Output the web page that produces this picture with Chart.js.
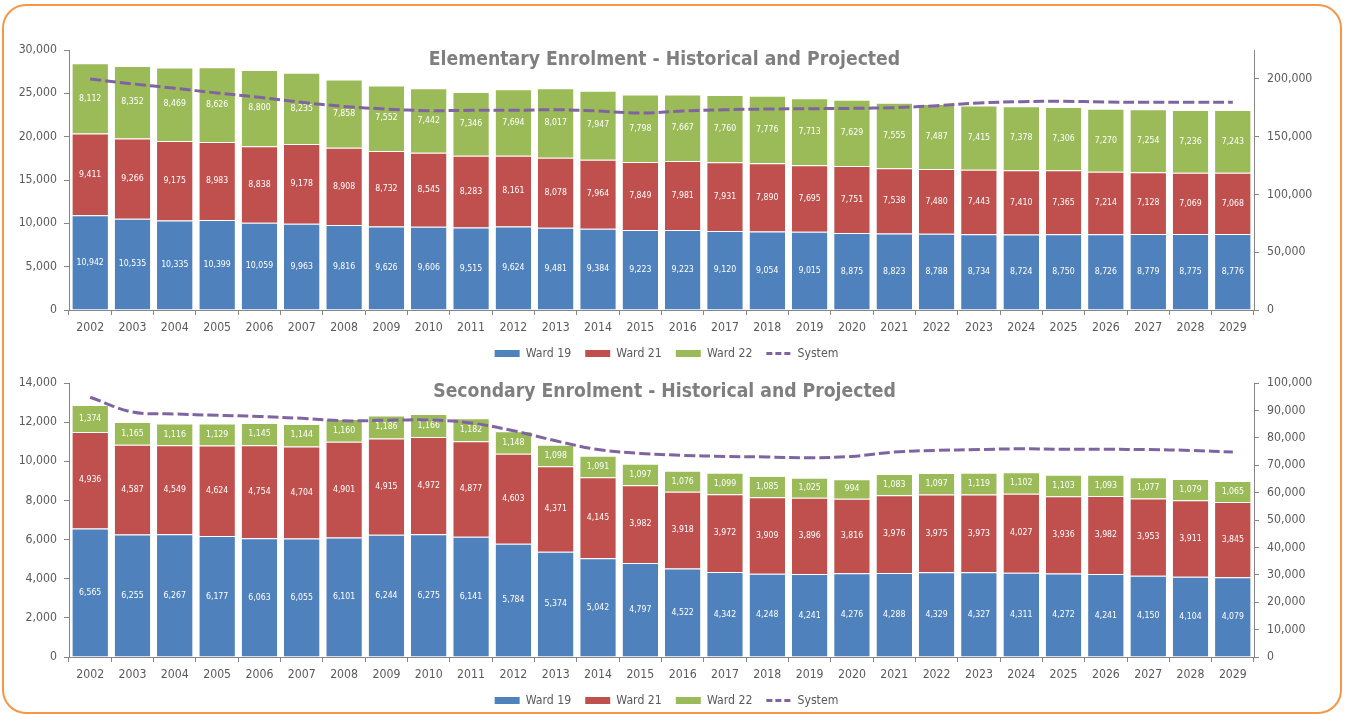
<!DOCTYPE html>
<html>
<head>
<meta charset="utf-8">
<title>Enrolment - Historical and Projected</title>
<script src="https://cdn.jsdelivr.net/npm/chart.js@4.4.1/dist/chart.umd.min.js"></script>
<style>
  html, body { margin: 0; padding: 0; background: #ffffff; overflow: hidden; width: 1345px; height: 715px; }
  #frame { position: absolute; left: 2px; top: 4px; width: 1336px; height: 706px; border: 2px solid #F79646; border-radius: 24px; }
  .box { position: absolute; left: 0; width: 1345px; }
  #box1 { top: 0; height: 372px; }
  #box2 { top: 333px; height: 386px; }
  canvas { display: block; }
</style>
</head>
<body>
<div id="frame"></div>
<div class="box" id="box1"><canvas id="elementary"></canvas></div>
<div class="box" id="box2"><canvas id="secondary"></canvas></div>
<script>
// School years shown on both charts
const years = ['2002','2003','2004','2005','2006','2007','2008','2009','2010','2011','2012','2013','2014','2015',
               '2016','2017','2018','2019','2020','2021','2022','2023','2024','2025','2026','2027','2028','2029'];

// Elementary enrolment by ward
const elemWard19 = [10942,10535,10335,10399,10059,9963,9816,9626,9606,9515,9624,9481,9384,9223,
                    9223,9120,9054,9015,8875,8823,8788,8734,8724,8750,8726,8779,8775,8776];
const elemWard21 = [9411,9266,9175,8983,8838,9178,8908,8732,8545,8283,8161,8078,7964,7849,
                    7981,7931,7890,7695,7751,7538,7480,7443,7410,7365,7214,7128,7069,7068];
const elemWard22 = [8112,8352,8469,8626,8800,8235,7858,7552,7442,7346,7694,8017,7947,7798,
                    7667,7760,7776,7713,7629,7555,7487,7415,7378,7306,7270,7254,7236,7243];
// Elementary system-wide total (right axis)
const elemSystem = [200000,195700,191900,187800,184100,179700,176200,173900,172500,172800,172800,173300,172200,170400,
                    172200,173300,173900,174200,174500,175100,176800,179100,180300,180600,180000,179700,179700,179700];

// Secondary enrolment by ward
const secWard19 = [6565,6255,6267,6177,6063,6055,6101,6244,6275,6141,5784,5374,5042,4797,
                   4522,4342,4248,4241,4276,4288,4329,4327,4311,4272,4241,4150,4104,4079];
const secWard21 = [4936,4587,4549,4624,4754,4704,4901,4915,4972,4877,4603,4371,4145,3982,
                   3918,3972,3909,3896,3816,3976,3975,3973,4027,3936,3982,3953,3911,3845];
const secWard22 = [1374,1165,1116,1129,1145,1144,1160,1186,1166,1182,1148,1098,1091,1097,
                   1076,1099,1085,1025,994,1083,1097,1119,1102,1103,1093,1077,1079,1065];
// Secondary system-wide total (right axis)
const secSystem = [94800,89400,88700,88200,87800,87100,86200,86400,86500,85400,82600,78900,75700,74300,
                   73600,73200,73000,72700,73200,74800,75400,75700,76000,75800,75800,75700,75400,74800];

// Axis ranges
const elemLeftMax = 30000, elemLeftStep = 5000, elemRightMax = 225000, elemRightStep = 50000;
const secLeftMax = 14000, secLeftStep = 2000, secRightMax = 100000, secRightStep = 10000;

const FONT = '"DejaVu Sans Condensed", "Liberation Sans", sans-serif';
const FS = 12.2;
const TEXT = '#595959';
const AXIS = '#868686';
const COLORS = { w19: '#4F81BD', w21: '#C0504D', w22: '#9BBB59', sys: '#8064A2' };

Chart.defaults.font.family = FONT;
Chart.defaults.font.size = FS;
Chart.defaults.color = TEXT;

const fmt = v => Number(v).toLocaleString('en-US');

// Value labels centred inside each stacked segment
const segmentLabels = {
  id: 'segmentLabels',
  afterDatasetDraw(chart, args) {
    const ds = chart.data.datasets[args.index];
    if (ds.type === 'line') return;
    const meta = args.meta;
    const ctx = chart.ctx;
    ctx.save();
    ctx.font = '8.7px ' + FONT;
    ctx.fillStyle = '#ffffff';
    ctx.textAlign = 'center';
    ctx.textBaseline = 'middle';
    meta.data.forEach((bar, i) => {
      const p = bar.getProps(['x', 'y', 'base'], true);
      ctx.fillText(fmt(ds.data[i]), p.x, (p.y + p.base) / 2);
    });
    ctx.restore();
  }
};

// Heading drawn over the top of the plot area
const headingText = {
  id: 'headingText',
  afterDraw(chart, args, opts) {
    const ctx = chart.ctx;
    ctx.save();
    ctx.font = 'bold 19.2px ' + FONT;
    ctx.fillStyle = '#7F7F7F';
    ctx.textAlign = 'center';
    ctx.textBaseline = 'middle';
    ctx.fillText(opts.text, opts.x, chart.chartArea.top + opts.dy);
    ctx.restore();
  }
};

function axisGrid() {
  return { display: true, drawOnChartArea: false, drawTicks: true, tickLength: 5, color: AXIS };
}

function makeChart(id, title, titleDy, w19, w21, w22, sys, leftMax, leftStep, rightMax, rightStep) {
  const barBorder = { top: 1, bottom: 0, left: 0, right: 0 };
  const rightTicks = [];
  for (let v = 0; v <= rightMax; v += rightStep) rightTicks.push(v);
  return new Chart(document.getElementById(id), {
    type: 'bar',
    data: {
      labels: years,
      datasets: [
        { label: 'Ward 19', data: w19, backgroundColor: COLORS.w19, borderColor: 'rgba(255,255,255,0.45)', borderWidth: barBorder, borderSkipped: false, order: 1, yAxisID: 'y' },
        { label: 'Ward 21', data: w21, backgroundColor: COLORS.w21, borderColor: 'rgba(255,255,255,0.45)', borderWidth: barBorder, borderSkipped: false, order: 1, yAxisID: 'y' },
        { label: 'Ward 22', data: w22, backgroundColor: COLORS.w22, borderColor: 'rgba(255,255,255,0.45)', borderWidth: barBorder, borderSkipped: false, order: 1, yAxisID: 'y' },
        { label: 'System', type: 'line', data: sys, yAxisID: 'y1', order: 0,
          borderColor: COLORS.sys, backgroundColor: COLORS.sys, borderWidth: 3, borderDash: [11, 4],
          borderCapStyle: 'butt', pointRadius: 0, pointHoverRadius: 0, tension: 0.35, fill: false }
      ]
    },
    options: {
      responsive: true,
      maintainAspectRatio: false,
      animation: false,
      devicePixelRatio: 1,
      layout: { padding: { top: 50, left: 0, right: 12, bottom: 2.4 } },
      datasets: { bar: { barPercentage: 0.84, categoryPercentage: 1.0 } },
      scales: {
        x: {
          stacked: true,
          grid: Object.assign(axisGrid(), { offset: true }),
          border: { display: true, color: AXIS, width: 1 },
          ticks: { padding: 5.7, color: TEXT, font: { size: FS }, maxRotation: 0, autoSkip: false },
          afterFit(s) { s.height = 23.4; }
        },
        y: {
          stacked: true,
          position: 'left',
          min: 0, max: leftMax,
          grid: axisGrid(),
          border: { display: true, color: AXIS, width: 1 },
          ticks: { stepSize: leftStep, padding: 7, color: TEXT, font: { size: FS }, callback: v => fmt(v) },
          afterFit(s) { s.width = 69; }
        },
        y1: {
          position: 'right',
          min: 0, max: rightMax,
          grid: axisGrid(),
          border: { display: true, color: AXIS, width: 1 },
          ticks: { padding: 8, color: TEXT, font: { size: FS }, callback: v => fmt(v) },
          afterBuildTicks(s) { s.ticks = rightTicks.map(v => ({ value: v })); },
          afterFit(s) { s.width = 79; }
        }
      },
      plugins: {
        legend: {
          position: 'bottom',
          labels: {
            usePointStyle: true,
            pointStyleWidth: 25,
            boxWidth: 25,
            boxHeight: 7,
            padding: 14,
            color: TEXT,
            font: { size: FS },
            generateLabels(chart) {
              const items = Chart.defaults.plugins.legend.labels.generateLabels(chart);
              items.sort((a, b) => a.datasetIndex - b.datasetIndex);
              return items.map(it => {
                const ds = chart.data.datasets[it.datasetIndex];
                if (ds.type === 'line') {
                  it.pointStyle = 'line';
                  it.lineWidth = 3;
                  it.lineDash = [6, 3];
                  it.strokeStyle = ds.borderColor;
                } else {
                  it.pointStyle = 'rect';
                  it.lineWidth = 0;
                }
                return it;
              });
            }
          }
        },
        tooltip: { enabled: false },
        headingText: { text: title, x: 664.5, dy: titleDy }
      }
    },
    plugins: [segmentLabels, headingText]
  });
}

makeChart('elementary', 'Elementary Enrolment - Historical and Projected', 10,
          elemWard19, elemWard21, elemWard22, elemSystem, elemLeftMax, elemLeftStep, elemRightMax, elemRightStep);
makeChart('secondary', 'Secondary Enrolment - Historical and Projected', 9,
          secWard19, secWard21, secWard22, secSystem, secLeftMax, secLeftStep, secRightMax, secRightStep);
</script>
</body>
</html>
